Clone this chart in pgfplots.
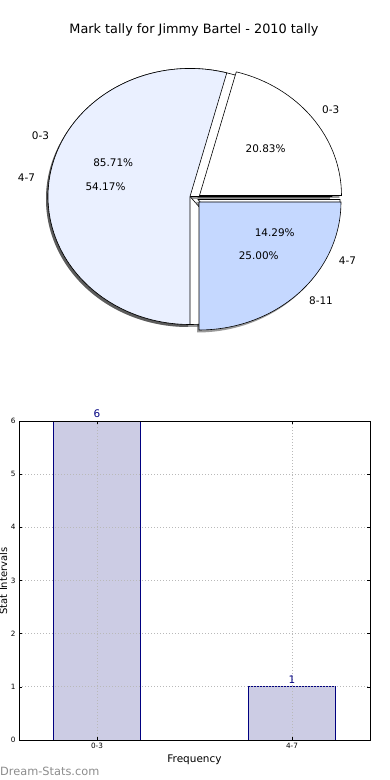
\documentclass[border=0pt]{standalone}
\usepackage{fontspec}
\setmainfont{DejaVu Sans}
\usepackage{pgfplots}
\pgfplotsset{compat=1.18}
\definecolor{pielight}{RGB}{234,240,255}
\definecolor{pieblue}{RGB}{197,216,255}
\definecolor{barfill}{RGB}{204,204,228}
\definecolor{navyc}{RGB}{0,0,128}
\definecolor{wmgray}{RGB}{140,140,140}
% wedge: start angle, end angle, dx, dy, fill
\newcommand{\piewedge}[5]{%
  \filldraw[fill=#5,draw=black,line width=0.6bp] (axis cs:#3,#4) -- ++(#1:142bp and 128bp)
    arc[start angle=#1,end angle=#2,x radius=142bp,y radius=128bp] -- cycle;}
\newcommand{\pieshadow}[4]{%
  \fill[black,opacity=0.4] (axis cs:#3-2,#4-2.5) -- ++(#1:142bp and 128bp)
    arc[start angle=#1,end angle=#2,x radius=142bp,y radius=128bp] -- cycle;}
% label: angle, dx, dy, text, anchor
\newcommand{\pielabel}[5]{%
  \path (axis cs:#2,#3) ++(#1:156.2bp and 140.8bp) node[anchor=#5,inner sep=0pt,font=\fontsize{10.5}{12}\selectfont] {#4};}
\newcommand{\piepct}[4]{%
  \path (axis cs:#2,#3) ++(#1:85.2bp and 76.8bp) node[inner sep=0pt,font=\fontsize{10.5}{12}\selectfont] {#4};}
\begin{document}
\begin{tikzpicture}
% first pie: 0-3 85.71, 4-7 14.29
\pgfmathsetmacro\pA{3.6*85.71}
% second pie: 0-3 20.83, 4-7 54.17, 8-11 25.00
\pgfmathsetmacro\qA{3.6*20.83}
\pgfmathsetmacro\qB{\qA+3.6*54.17}
\pgfmathsetmacro\qC{\qB+3.6*25.00}
\begin{axis}[x=1bp,y=1bp,xmin=-190,xmax=200,ymin=-200,ymax=200,
  hide axis,clip=false,anchor=south west,at={(0bp,383.5bp)}]
\pieshadow{0}{\pA}{0}{0}
\pieshadow{\pA}{360}{8}{-3}
\pieshadow{0}{\qA}{9.5}{1}
\pieshadow{\qA}{\qB}{0}{0}
\pieshadow{\qB}{\qC}{9}{-5.5}
\piewedge{0}{\pA}{0}{0}{white}
\piewedge{\pA}{360}{8}{-3}{white}
\piewedge{0}{\qA}{9.5}{1}{white}
\piewedge{\qA}{\qB}{0}{0}{pielight}
\piewedge{\qB}{\qC}{9}{-5.5}{pieblue}
\pgfmathsetmacro\mA{\pA/2}
\pgfmathsetmacro\mB{(\pA+360)/2}
\pgfmathsetmacro\nA{\qA/2}
\pgfmathsetmacro\nB{(\qA+\qB)/2}
\pgfmathsetmacro\nC{(\qB+\qC)/2}
\pielabel{\mA}{0}{0}{0-3}{east}
\pielabel{\mB}{8}{-3}{4-7}{west}
\pielabel{\nA}{8}{1.5}{0-3}{west}
\pielabel{\nB}{0}{0}{4-7}{east}
\pielabel{\nC}{8.5}{-4.5}{8-11}{west}
\piepct{\mA}{0}{0}{85.71\%}
\piepct{\mB}{8}{-3}{14.29\%}
\piepct{\nA}{8}{1.5}{20.83\%}
\piepct{\nB}{0}{0}{54.17\%}
\piepct{\nC}{8.5}{-5}{25.00\%}
\end{axis}
\node[font=\fontsize{12.9}{15}\selectfont] at (194bp,750bp) {Mark tally for Jimmy Bartel - 2010 tally};
\begin{axis}[at={(19bp,40bp)},anchor=south west,scale only axis,
  width=351bp,height=319bp,xmin=-0.4,xmax=1.4,ymin=0,ymax=6,
  xtick={0,1},xticklabels={0-3,4-7},ytick={0,1,2,3,4,5,6},
  grid=major,grid style={dash pattern=on 1bp off 2bp,gray!55,line width=0.9bp},
  axis on top,tick align=inside,tick pos=both,major tick length=3bp,
  tick style={black,line width=0.5bp},axis line style={line width=0.8bp},
  ticklabel style={font=\fontsize{7.3}{8}\selectfont},
  /pgf/number format/assume math mode=true]
\addplot[ybar,bar width=0.446,fill=barfill,draw=navyc,line width=0.8bp,
  nodes near coords,nodes near coords style={navyc,font=\fontsize{10.5}{12}\selectfont}]
  coordinates {(0,6) (1,1)};
\end{axis}
\node[font=\fontsize{10.5}{12}\selectfont] at (194.5bp,20bp) {Frequency};
\node[font=\fontsize{10}{12}\selectfont,rotate=90] at (3.5bp,199bp) {Stat Intervals};
\node[anchor=west,inner sep=0pt,text=wmgray,font=\fontsize{11.4}{13}\selectfont] at (0bp,9bp) {Dream-Stats.com};
\pgfresetboundingbox
\path[use as bounding box] (0,0) rectangle (390bp,780bp);
\end{tikzpicture}
\end{document}
